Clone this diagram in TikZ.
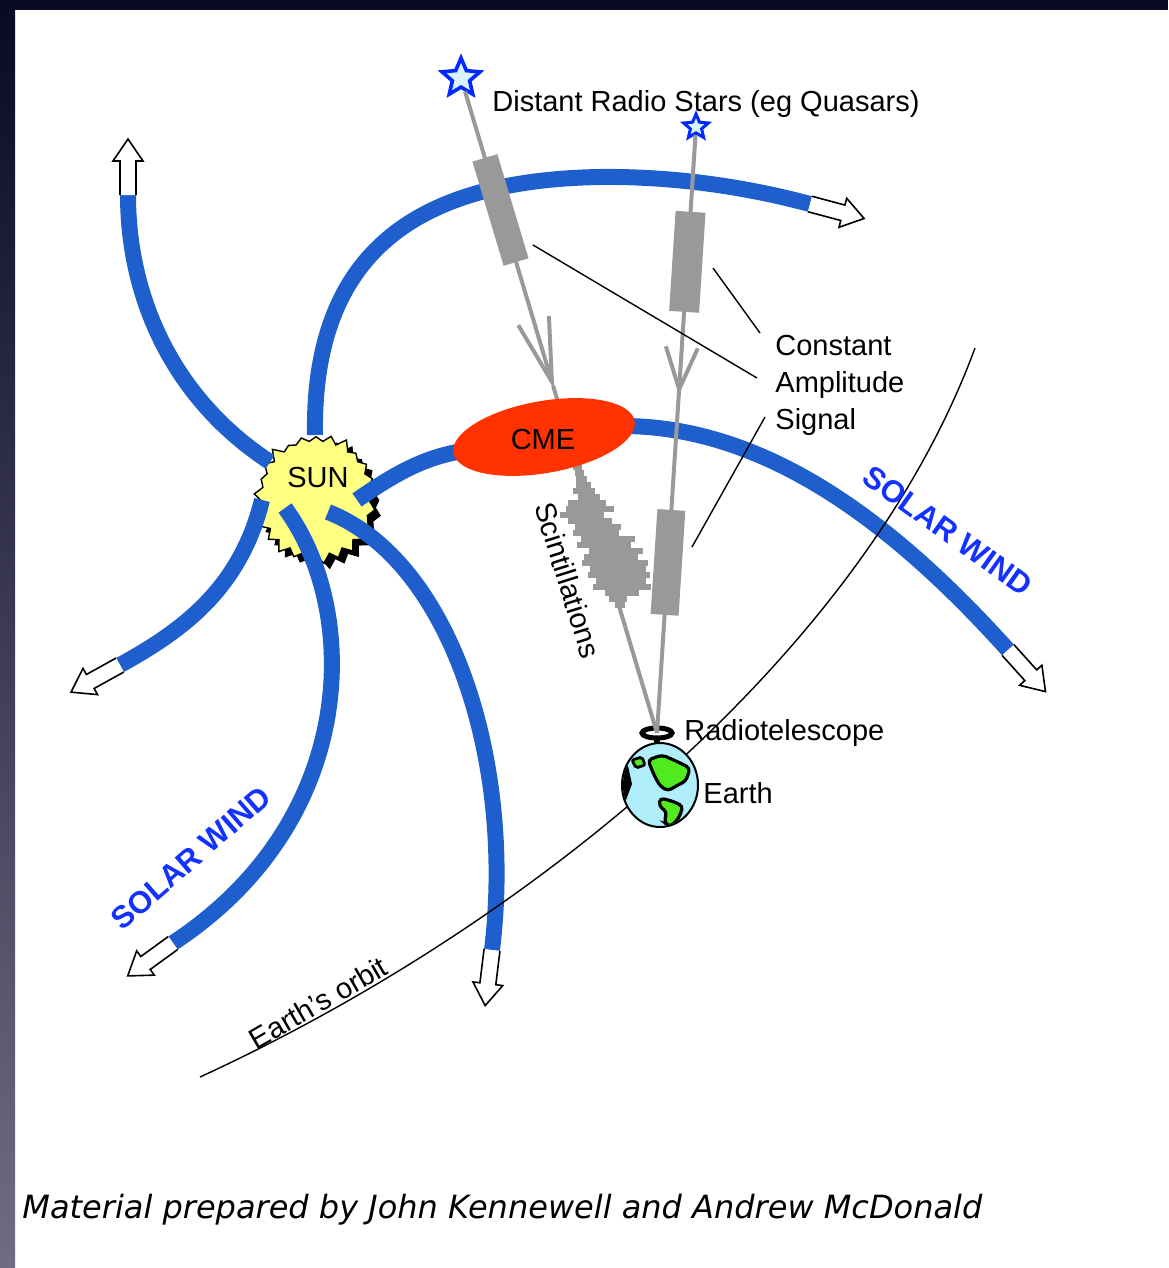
\documentclass[tikz,border=0pt]{standalone}
\usepackage{fontspec}
\setmainfont{Liberation Sans}
\newfontfamily\creditfont{DejaVu Sans}
\usetikzlibrary{
  arrows.meta,
  calc,
  shapes.geometric,
  shapes.symbols
}
\definecolor{windblue}{RGB}{30,95,205}
\definecolor{windtext}{RGB}{20,50,255}
\definecolor{raygray}{RGB}{153,153,153}
\definecolor{cmered}{RGB}{255,50,0}
\definecolor{sunyellow}{RGB}{255,255,130}
\definecolor{starblue}{RGB}{0,40,255}
\definecolor{seablue}{RGB}{175,238,250}
\definecolor{landgreen}{RGB}{80,235,30}
\definecolor{framedark}{RGB}{10,10,36}
\definecolor{framelight}{RGB}{112,108,132}
\tikzset{
  % For solar wind streams.
  wind/.style={
    draw=windblue,
    line width=8pt},
%
  % For the hollow arrow closing a stream; it points along +x.
  wind arrow/.pic={
    \filldraw[fill=white, line width=0.8pt, line join=miter]
      (0pt,-4pt) -- (17pt,-4pt) -- (17pt,-7.5pt) -- (28pt,0pt)
      -- (17pt,7.5pt) -- (17pt,4pt) -- (0pt,4pt);},
%
  % For the sun.
  sun/.style={
    starburst,
    starburst points=25,
    starburst point height=5pt,
    random starburst=42,
    minimum width=64pt,
    minimum height=67pt,
    inner sep=0pt,
    line width=0.7pt},
%
  % For the radio sources.
  radio star/.style={
    star,
    star points=5,
    star point ratio=2.2,
    draw=starblue,
    fill=cyan!15,
    line width=1.8pt,
    inner sep=0pt},
%
  % For radio rays and their signal boxes.
  ray/.style={
    draw=raygray,
    line width=2pt},
  signal/.style={
    draw=raygray,
    line width=#1},
%
  % For leader lines and the orbit.
  leader/.style={
    line width=0.7pt},
  orbit/.style={
    line width=0.7pt},
%
  % For labels.
  tag/.style={
    font=\fontsize{14.5}{18.5}\selectfont,
    inner sep=0pt},
  wind tag/.style={
    font=\fontsize{15.5}{18}\selectfont\bfseries,
    text=windtext,
    inner sep=0pt},
}

\begin{document}
\begin{tikzpicture}[x=0.5pt, y=-0.5pt]
  \useasboundingbox (0,0) rectangle (1168,1268);
  \fill[framedark] (0,0) rectangle (1168,10);
  \shade[top color=framedark, bottom color=framelight] (0,10) rectangle (15,1268);

  % The sun, with its shadow.
  \node[sun, fill=black] at (322,504) {};
  \node[sun, draw, fill=sunyellow] (Sun) at (316,498) {};

  \coordinate (Wa) at (128,195);
  \coordinate (Wb) at (810,204);
  \coordinate (Wd) at (1008,650);
  \coordinate (We) at (120,665);
  \coordinate (Wf) at (173,943);
  \coordinate (Wg) at (492,950);
  \coordinate (Cl) at (470,450);
  \coordinate (Cr) at (620,426);

  \draw[wind] ($(Sun)+(-46,-36)$) .. controls (175,400) and (128,300) .. (Wa);
  \draw[wind] ($(Sun)+(-1,-63)$) .. controls (312,250) and (420,180) .. (600,177)
    .. controls (690,176) and (765,192) .. (Wb);
  \draw[wind] ($(Sun)+(41,2)$) .. controls (400,470) and (430,455) .. (Cl);
  \draw[wind] (Cr) .. controls (770,425) and (900,530) .. (Wd);
  \draw[wind] ($(Sun)+(-54,2)$) .. controls (240,590) and (180,632) .. (We);
  \draw[wind] ($(Sun)+(-31,10)$) .. controls (360,610) and (360,820) .. (Wf);
  \draw[wind] ($(Sun)+(12,14)$) .. controls (450,560) and (515,760) .. (Wg);

  \foreach \w/\a in {Wa/90, Wb/-15, Wd/-48, We/-151, Wf/-144, Wg/-97}
    \pic[rotate=\a] at (\w) {wind arrow};

  % Earth's orbit.
  \coordinate (O1) at (200,1077);
  \coordinate (O2) at (975,348);
  \draw[orbit] (O1) .. controls (520,930) and (860,660) .. (O2);

  % Radiotelescope on the Earth.
  \coordinate (Dish) at (657,733);
  \draw[line width=3pt] (657,738) -- (657,750);
  \draw[line width=2.5pt] (Dish) ellipse [x radius=15, y radius=5];

  \node[radio star, minimum size=20pt] (S1) at (461,78) {};
  \node[radio star, minimum size=13pt, line width=1.5pt] (S2) at (696,127) {};

  % Rays from the two sources.
  \draw[ray, -{Straight Barb[length=32pt, width=16pt]}] (S1) -- ($(S1)!0.476!(Dish)$);
  \draw[ray] ($(S1)!0.47!(Dish)$) -- (Dish);
  \draw[ray, -{Straight Barb[length=21pt, width=16pt]}] (S2) -- ($(S2)!0.442!(Dish)$);
  \draw[ray] ($(S2)!0.43!(Dish)$) -- (Dish);

  \draw[signal=13pt] ($(S1)!0.122!(Dish)$) -- ($(S1)!0.281!(Dish)$);
  \draw[signal=15pt] ($(S2)!0.14!(Dish)$) -- ($(S2)!0.305!(Dish)$);
  \draw[signal=14pt] ($(S2)!0.632!(Dish)$) -- ($(S2)!0.805!(Dish)$);

  % Scintillations: ragged bars across the first ray.
  \foreach \y/\l/\r in {467/4/5, 473/4/5, 479/5/6, 485/7/8, 491/12/10,
      497/8/14, 503/20/18, 509/24/24, 515/32/12, 521/26/18, 527/20/26,
      533/24/22, 539/18/36, 545/24/30, 551/14/40, 557/20/34, 563/24/42,
      569/18/38, 575/22/40, 581/16/34, 587/20/38, 593/10/24, 599/8/10,
      605/4/6}
    \fill[raygray] ({461+0.2992*(\y-78)-\l},\y-3)
      rectangle ({461+0.2992*(\y-78)+\r},\y+3);

  % Leaders to the signal label.
  \node[tag, anchor=north west, align=left] (CAS) at (775,335)
    {Constant\\Amplitude\\Signal};
  \coordinate (B1) at (533,245);
  \coordinate (B2) at (713,268);
  \coordinate (B3) at (692,547);
  \draw[leader] (B1) -- (757,378);
  \draw[leader] (B2) -- (760,333);
  \draw[leader] (B3) -- (765,417);

  % The coronal mass ejection.
  \fill[cmered, rotate around={10:(544,437)}] (544,437)
    ellipse [x radius=92, y radius=36];
  \node[tag] (CME) at (543,440) {CME};

  % The Earth.
  \node[ellipse, draw, line width=1pt, fill=seablue, minimum width=38pt,
    minimum height=42pt, inner sep=0pt] (Earth) at (660,785) {};
  \begin{scope}
    \clip (660,785) ellipse [x radius=37, y radius=41];
    \filldraw[fill=landgreen, line width=1.6pt, rounded corners=2pt]
      (648,760) -- (662,755) -- (676,761) -- (690,768) -- (686,781)
      -- (676,786) -- (668,791) -- (660,786) -- (654,775) -- cycle;
    \filldraw[fill=landgreen, line width=1.6pt, rounded corners=2pt]
      (660,798) -- (672,801) -- (683,806) -- (679,818) -- (670,827)
      -- (664,822) -- (667,812) -- (659,806) -- cycle;
    \filldraw[fill=landgreen, line width=1.4pt, rounded corners=1pt]
      (632,760) -- (642,757) -- (645,765) -- (636,768) -- cycle;
    \fill (618,770) -- (628,766) -- (632,784) -- (626,800) -- (618,800) -- cycle;
  \end{scope}

  % Labels.
  \node[tag, anchor=base] (SunTag) at (318,487) {SUN};
  \node[tag, anchor=base west] (DRS) at (492,112) {Distant Radio Stars (eg Quasars)};
  \node[tag, anchor=base west] (RT) at (684,740) {Radiotelescope};
  \node[tag, anchor=base west] (ET) at (703,803) {Earth};
  \node[tag, rotate=-72.6] (Sci) at (568,580) {Scintillations};
  \node[tag, rotate=30] (Orb) at (318,1003) {Earth's orbit};
  \node[wind tag, rotate=41] (SW1) at (191,858) {SOLAR WIND};
  \node[wind tag, rotate=-35.5] (SW2) at (948,531) {SOLAR WIND};

  \node[anchor=base west, inner sep=0pt, font=\creditfont\itshape\fontsize{16}{19}\selectfont]
    (Credit) at (22,1218) {Material prepared by John Kennewell and Andrew McDonald};
\end{tikzpicture}
\end{document}
